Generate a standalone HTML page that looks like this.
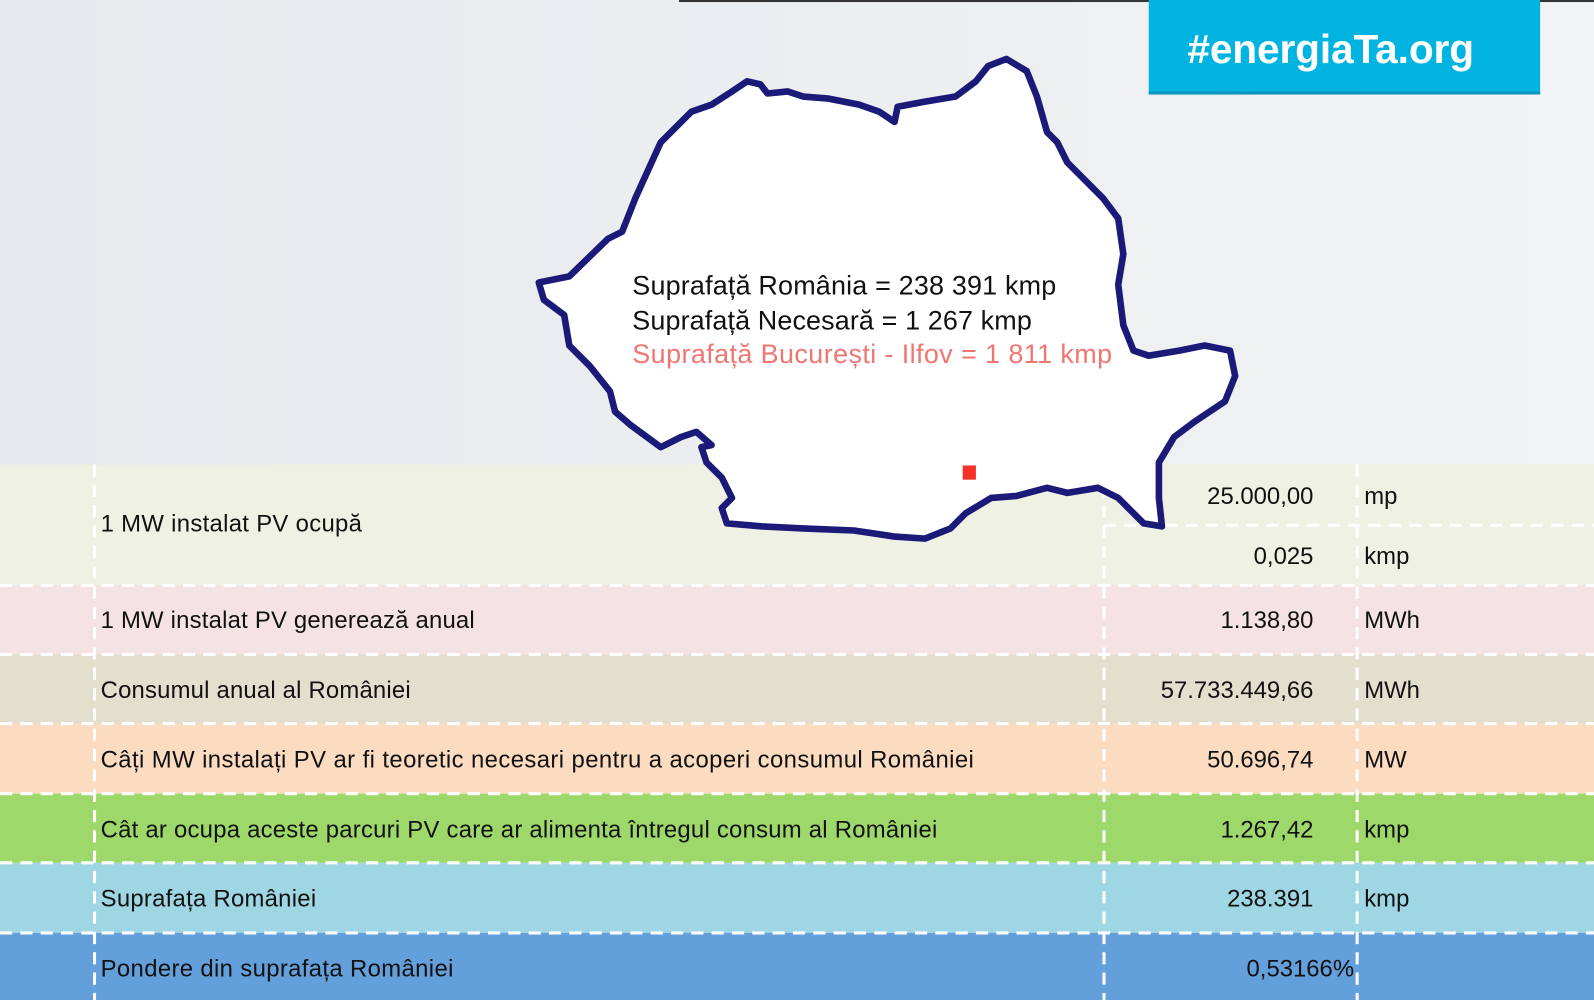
<!DOCTYPE html>
<html><head><meta charset="utf-8"><style>html,body{margin:0;padding:0;width:1594px;height:1000px;overflow:hidden;background:#eceff1}</style></head>
<body>
<svg width="1594" height="1000" viewBox="0 0 1568 984" preserveAspectRatio="none" xmlns="http://www.w3.org/2000/svg" font-family="'Liberation Sans', sans-serif">
<defs><linearGradient id="bg" x1="0" y1="0" x2="1" y2="0"><stop offset="0" stop-color="#e6eaec"/><stop offset="1" stop-color="#f1f3f4"/></linearGradient></defs>
<rect width="1568" height="984" fill="url(#bg)"/>
<rect x="668" y="0" width="900" height="2" fill="#333"/>
<rect x="1130" y="0" width="385" height="93" fill="#00b3e1"/>
<rect x="1130" y="90" width="385" height="3" fill="#0797bf"/>
<text x="1168" y="62" font-size="40" font-weight="bold" fill="#fff" textLength="282">#energiaTa.org</text>
<rect x="0" y="457" width="1568" height="119" fill="#eef1e4"/>
<rect x="0" y="576" width="1568" height="68" fill="#f4e3e2"/>
<rect x="0" y="644" width="1568" height="68" fill="#e3dfcf"/>
<rect x="0" y="712" width="1568" height="69" fill="#fbdcc1"/>
<rect x="0" y="781" width="1568" height="68" fill="#9ed86a"/>
<rect x="0" y="849" width="1568" height="69" fill="#9fd6e3"/>
<rect x="0" y="918" width="1568" height="66" fill="#629fdb"/>
<g stroke="#fff" stroke-width="3" stroke-dasharray="12,8" fill="none">
<line x1="0" y1="576" x2="1568" y2="576"/><line x1="0" y1="644" x2="1568" y2="644"/><line x1="0" y1="712" x2="1568" y2="712"/><line x1="0" y1="781" x2="1568" y2="781"/><line x1="0" y1="849" x2="1568" y2="849"/><line x1="0" y1="918" x2="1568" y2="918"/><line x1="1086" y1="517" x2="1568" y2="517"/>
<line x1="93" y1="457" x2="93" y2="984"/><line x1="1086" y1="457" x2="1086" y2="984"/><line x1="1335" y1="457" x2="1335" y2="984"/>
</g>
<path d="M530,278 L560,272 L598,235 L612,228 L625,195 L650,140 L680,110 L700,103 L720,90 L735,80 L748,83 L755,92 L775,90 L790,95 L815,97 L845,103 L865,110 L880,120 L883,105 L910,100 L940,95 L960,80 L972,65 L990,58 L1010,70 L1020,95 L1030,130 L1040,140 L1050,160 L1065,175 L1085,195 L1100,215 L1105,250 L1100,280 L1105,320 L1115,345 L1130,350 L1160,345 L1185,340 L1210,345 L1215,370 L1205,395 L1175,415 L1155,430 L1140,455 L1140,490 L1143,518 L1125,515 L1100,490 L1080,480 L1050,485 L1030,480 L1000,488 L975,490 L950,505 L935,520 L910,530 L880,528 L840,522 L790,520 L750,518 L715,515 L710,500 L720,490 L710,470 L695,455 L690,440 L700,438 L685,425 L670,430 L650,440 L620,418 L605,405 L600,385 L580,360 L560,340 L555,310 L535,295 Z" fill="#fff" stroke="#1b1a78" stroke-width="6.5" stroke-linejoin="round"/>
<rect x="947" y="458" width="13" height="14" fill="#f5322a"/>
<g font-size="26.5">
<text x="622" y="290" fill="#111" textLength="417">Suprafață România = 238 391 kmp</text>
<text x="622" y="324" fill="#111" textLength="393">Suprafață Necesară = 1 267 kmp</text>
<text x="622" y="357" fill="#f07672" textLength="472">Suprafață București - Ilfov = 1 811 kmp</text>
</g>
<g font-size="23.5" fill="#111">
<text x="99" y="523" textLength="257">1 MW instalat PV ocupă</text>
<text x="99" y="618" textLength="368">1 MW instalat PV generează anual</text>
<text x="99" y="687" textLength="305">Consumul anual al României</text>
<text x="99" y="755" textLength="859">Câți MW instalați PV ar fi teoretic necesari pentru a acoperi consumul României</text>
<text x="99" y="824" textLength="823">Cât ar ocupa aceste parcuri PV care ar alimenta întregul consum al României</text>
<text x="99" y="892" textLength="212">Suprafața României</text>
<text x="99" y="961" textLength="347">Pondere din suprafața României</text>
<g text-anchor="end">
<text x="1292" y="496">25.000,00</text>
<text x="1292" y="555">0,025</text>
<text x="1292" y="618">1.138,80</text>
<text x="1292" y="687">57.733.449,66</text>
<text x="1292" y="755">50.696,74</text>
<text x="1292" y="824">1.267,42</text>
<text x="1292" y="892">238.391</text>
<text x="1332" y="961">0,53166%</text>
</g>
<text x="1342" y="496">mp</text><text x="1342" y="555">kmp</text><text x="1342" y="618">MWh</text><text x="1342" y="687">MWh</text><text x="1342" y="755">MW</text><text x="1342" y="824">kmp</text><text x="1342" y="892">kmp</text>
</g>
</svg>
</body></html>
